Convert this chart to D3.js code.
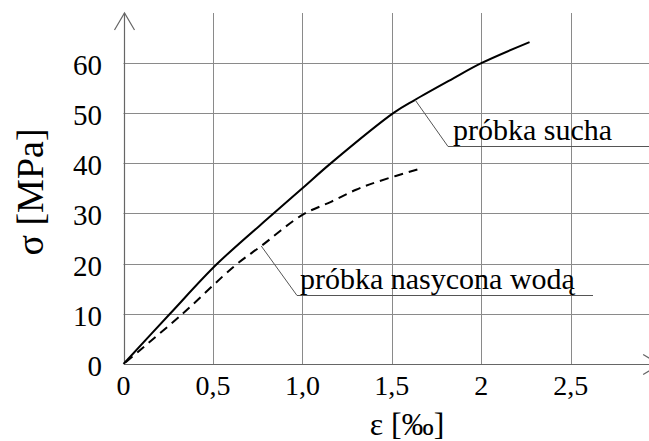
<!DOCTYPE html>
<html>
<head>
<meta charset="utf-8">
<script src="https://cdn.jsdelivr.net/npm/d3@7"></script>
</head>
<body style="margin:0">
<script>
// values
var xTicks = [0, 0.5, 1.0, 1.5, 2, 2.5]
var xTickLabels = ['0', '0,5', '1,0', '1,5', '2', '2,5']
var yTicks = [0, 10, 20, 30, 40, 50, 60]

// dry sample (solid)
var dryStrain = [0, 0.26, 0.525, 0.84, 1.0, 1.16, 1.51, 1.63, 1.83, 2.0, 2.27]
var dryStress = [0, 10, 20, 30, 35, 40, 50, 52.6, 56.6, 59.9, 64.1]

// water saturated sample (dashed)
var wetStrain = [0, 0.33, 0.62, 0.77, 1.0, 1.16, 1.3, 1.42, 1.65]
var wetStress = [0, 10, 19.5, 23.5, 29.7, 32.3, 34.7, 36.3, 38.8]

// where the label leaders touch the curves
var dryLabel = { text: 'próbka sucha', at: [1.63, 52.6] }
var wetLabel = { text: 'próbka nasycona wodą', at: [0.77, 23.5] }

var width = 649
var height = 441
var serif = '"Times New Roman", Tinos, "Nimbus Roman", FreeSerif, "Liberation Serif", serif'

var x = d3.scaleLinear().domain([0, 2.5]).range([123.5, 570.7])
var y = d3.scaleLinear().domain([0, 60]).range([364, 62.7])

var svg = d3.select('body')
    .append('svg')
    .attr('width', width)
    .attr('height', height)
    .style('display', 'block')

var yTop = 13
var gridColor = '#8a8a8a'

// text helper, Times-like face
function label(g, size) {
    return g.append('text')
        .style('font-family', serif)
        .style('font-size', size + 'px')
}

// vertical grid
svg.append('g')
    .selectAll('line')
    .data(xTicks.slice(1))
    .enter()
    .append('line')
    .attr('x1', function (d) { return Math.round(x(d)) + 0.5 })
    .attr('x2', function (d) { return Math.round(x(d)) + 0.5 })
    .attr('y1', yTop)
    .attr('y2', y(0))
    .style('stroke', gridColor)
    .style('stroke-width', 1)

// horizontal grid
svg.append('g')
    .selectAll('line')
    .data(yTicks.slice(1))
    .enter()
    .append('line')
    .attr('x1', x(0))
    .attr('x2', width)
    .attr('y1', function (d) { return Math.round(y(d)) + 0.5 })
    .attr('y2', function (d) { return Math.round(y(d)) + 0.5 })
    .style('stroke', gridColor)
    .style('stroke-width', 1)

// axes with arrows
var axisColor = '#666'
var x0 = Math.round(x(0)) + 0.5
var y0 = Math.round(y(0)) + 0.5
var xEnd = x(3.0)

svg.append('path')
    .attr('d', 'M' + x0 + ',' + y0 + 'V' + yTop)
    .style('fill', 'none').style('stroke', axisColor).style('stroke-width', 1.2)
svg.append('path')
    .attr('d', 'M' + (x0 - 10) + ',' + (yTop + 17) + 'L' + x0 + ',' + yTop + 'L' + (x0 + 10) + ',' + (yTop + 17))
    .style('fill', 'none').style('stroke', axisColor).style('stroke-width', 1.2)
svg.append('path')
    .attr('d', 'M' + x0 + ',' + y0 + 'H' + xEnd)
    .style('fill', 'none').style('stroke', axisColor).style('stroke-width', 1.2)
svg.append('path')
    .attr('d', 'M' + (xEnd - 17) + ',' + (y0 - 10) + 'L' + xEnd + ',' + y0 + 'L' + (xEnd - 17) + ',' + (y0 + 10))
    .style('fill', 'none').style('stroke', axisColor).style('stroke-width', 1.2)

// tick labels
xTicks.forEach(function (d, i) {
    label(svg, 28)
        .attr('x', x(d))
        .attr('y', 395)
        .attr('text-anchor', 'middle')
        .text(xTickLabels[i])
})

yTicks.forEach(function (d) {
    label(svg, 29)
        .attr('x', 102)
        .attr('y', y(d) + 12)
        .attr('text-anchor', 'end')
        .text(d)
})

// axis titles
label(svg, 32)
    .attr('x', 407)
    .attr('y', 435)
    .attr('text-anchor', 'middle')
    .text('ε [‰]')

label(svg, 38)
    .attr('transform', 'translate(43,192) rotate(-90)')
    .attr('text-anchor', 'middle')
    .text('σ [MPa]')

// curves
var line = d3.line()
    .x(function (d) { return x(d[0]) })
    .y(function (d) { return y(d[1]) })
    .curve(d3.curveCatmullRom.alpha(0.5))

var dry = d3.zip(dryStrain, dryStress)
var wet = d3.zip(wetStrain, wetStress)

svg.append('path')
    .attr('d', line(dry))
    .style('fill', 'none')
    .style('stroke', '#000')
    .style('stroke-width', 2)

svg.append('path')
    .attr('d', line(wet))
    .style('fill', 'none')
    .style('stroke', '#000')
    .style('stroke-width', 2)
    .style('stroke-dasharray', '9,6')
    .style('stroke-dashoffset', -3)

// leader lines + underlined labels
function addLabel(lab, kneeX, kneeY, textX, endX) {
    var ax = x(lab.at[0]), ay = y(lab.at[1])
    svg.append('path')
        .attr('d', 'M' + ax + ',' + ay + 'L' + kneeX + ',' + kneeY + 'H' + endX)
        .style('fill', 'none')
        .style('stroke', '#555')
        .style('stroke-width', 1)
    label(svg, 30)
        .attr('x', textX)
        .attr('y', kneeY - 7)
        .text(lab.text)
}

addLabel(dryLabel, 448, 146.5, 453, width)
addLabel(wetLabel, 297, 295.5, 300, 593)
</script>
</body>
</html>
